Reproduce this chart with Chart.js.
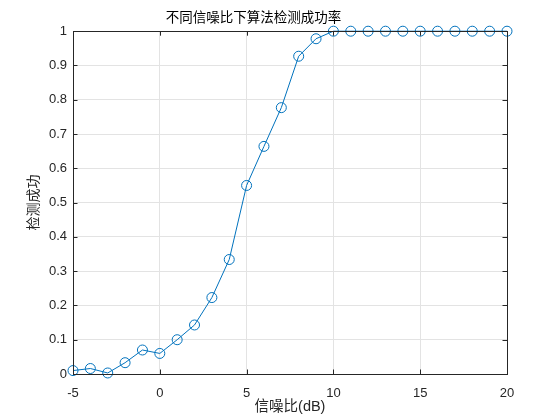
<!DOCTYPE html>
<html>
<head>
<meta charset="utf-8">
<script src="https://cdn.jsdelivr.net/npm/chart.js@4/dist/chart.umd.min.js"></script>
<style>
html,body{margin:0;padding:0;background:#fff;}
#wrap{width:560px;height:420px;position:relative;}
</style>
</head>
<body>
<div id="wrap"><canvas id="c" width="560" height="420"></canvas></div>
<script>
const snrValues = [-5,-4,-3,-2,-1,0,1,2,3,4,5,6,7,8,9,10,11,12,13,14,15,16,17,18,19,20];
const successRate = [0.010,0.016,0.003,0.033,0.070,0.060,0.100,0.143,0.223,0.334,0.550,0.664,0.777,0.927,0.978,1,1,1,1,1,1,1,1,1,1,1];
const xTickLabels = ['-5','0','5','10','15','20'];
const yTickLabels = ['0','0.1','0.2','0.3','0.4','0.5','0.6','0.7','0.8','0.9','1'];
const chartTitle = '不同信噪比下算法检测成功率';
const xTitle = '信噪比(dB)';
const yTitle = '检测成功';

const tickFont = {family:'"Liberation Sans", Arial, sans-serif', size:13};
const cjkFont = '"Liberation Sans", "Noto Sans CJK SC", sans-serif';

const boxPlugin = {
  id:'box',
  afterDraw(chart){
    const {ctx, chartArea:a, scales} = chart;
    ctx.save();
    ctx.strokeStyle = '#262626';
    ctx.lineWidth = 1;
    // inward tick marks
    const L = 4.5;
    ctx.beginPath();
    scales.x.ticks.forEach(t=>{
      const px = Math.round(scales.x.getPixelForValue(t.value))+0.5;
      ctx.moveTo(px, a.bottom); ctx.lineTo(px, a.bottom-L);
      ctx.moveTo(px, a.top); ctx.lineTo(px, a.top+L);
    });
    scales.y.ticks.forEach(t=>{
      const py = Math.round(scales.y.getPixelForValue(t.value))+0.5;
      ctx.moveTo(a.left, py); ctx.lineTo(a.left+L, py);
      ctx.moveTo(a.right, py); ctx.lineTo(a.right-L, py);
    });
    ctx.stroke();
    ctx.strokeRect(Math.round(a.left)+0.5, Math.round(a.top)+0.5, Math.round(a.right-a.left), Math.round(a.bottom-a.top));
    ctx.restore();
  }
};

new Chart(document.getElementById('c'), {
  type:'line',
  data:{
    datasets:[{
      data: snrValues.map((x,i)=>({x:x, y:successRate[i]})),
      borderColor:'#0072BD',
      backgroundColor:'rgba(0,0,0,0)',
      borderWidth:1,
      pointStyle:'circle',
      pointRadius:5,
      pointBorderWidth:1,
      pointBorderColor:'#0072BD',
      pointBackgroundColor:'rgba(0,0,0,0)',
      tension:0,
      clip:false
    }]
  },
  options:{
    responsive:false,
    animation:false,
    events:[],
    layout:{padding:{left:0,right:53,top:0,bottom:0}},
    plugins:{
      legend:{display:false},
      tooltip:{enabled:false},
      title:{
        display:true,
        text:chartTitle,
        color:'#000',
        font:{family:'"Noto Sans CJK SC", sans-serif', size:13.5, weight:'normal', lineHeight:1.2},
        padding:{top:9,bottom:6}
      }
    },
    scales:{
      x:{
        type:'linear',
        min:-5, max:20,
        ticks:{
          stepSize:5,
          color:'#262626',
          font:tickFont,
          padding:12,
          maxRotation:0,
          callback:(v)=>{const i=[-5,0,5,10,15,20].indexOf(v); return i>=0?xTickLabels[i]:'';}
        },
        grid:{color:'#e3e3e3',drawTicks:false,lineWidth:1},
        border:{display:false},
        title:{display:true,text:xTitle,color:'#262626',font:{family:cjkFont,size:14.5,lineHeight:1.2},padding:{top:0,bottom:4.5}},
        afterFit(s){s.height=46;}
      },
      y:{
        type:'linear',
        min:0, max:1,
        ticks:{
          stepSize:0.1,
          color:'#262626',
          font:tickFont,
          padding:6,
          callback:(v)=>{const i=Math.round(v*10); return yTickLabels[i];}
        },
        grid:{color:'#e3e3e3',drawTicks:false,lineWidth:1},
        border:{display:false},
        title:{display:true,text:yTitle,color:'#262626',font:{family:cjkFont,size:14,lineHeight:1.2},padding:{top:25.5,bottom:0}},
        afterFit(s){s.width=73;}
      }
    }
  },
  plugins:[boxPlugin]
});
</script>
</body>
</html>
